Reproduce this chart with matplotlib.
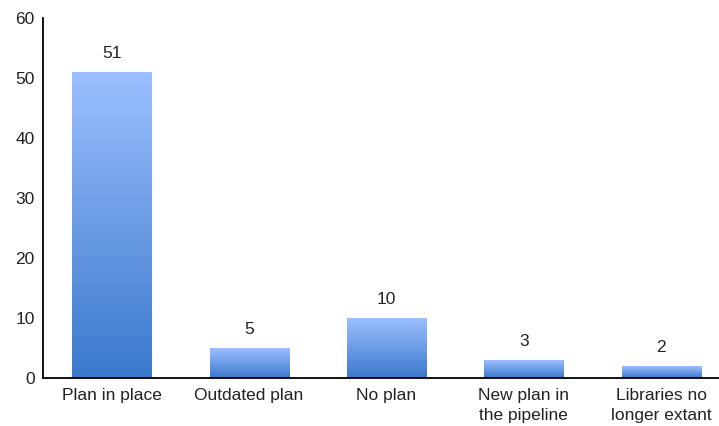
import numpy as np
import matplotlib.pyplot as plt
from matplotlib.colors import LinearSegmentedColormap

plt.rcParams['font.family'] = ['Liberation Sans', 'DejaVu Sans']

categories = ['Plan in place', 'Outdated plan', 'No plan',
              'New plan in\nthe pipeline', 'Libraries no\nlonger extant']
counts = [51, 5, 10, 3, 2]
yticks = [0, 10, 20, 30, 40, 50, 60]

fig = plt.figure(figsize=(7.19, 4.26), dpi=100)
ax = fig.add_axes([43/719, 1 - 378/426, 676/719, 360/426])

# vertical gradient, light on top, darker at the bottom
cmap = LinearSegmentedColormap.from_list('bar', ['#3b79cc', '#9bbfff'])
grad = np.linspace(0, 1, 256).reshape(-1, 1)
w = 0.575
x = np.arange(len(counts))
for xi, v in zip(x, counts):
    ax.imshow(grad, cmap=cmap, origin='lower', aspect='auto',
              extent=(xi - w/2, xi + w/2, 0, v), zorder=2)
    ax.annotate(str(v), (xi, v), xytext=(0, 8), textcoords='offset points',
                ha='center', va='bottom', fontsize=12.5, color='#222222')

ax.set_xlim(-0.5, 4.42)
ax.set_ylim(0, 60)
ax.set_yticks(yticks)
ax.set_xticks(x)
ax.set_xticklabels(categories, fontsize=12.5, color='#222222', linespacing=1.45)
ax.tick_params(axis='both', length=0, labelsize=12.5, labelcolor='#222222')
ax.tick_params(axis='y', pad=6)
ax.tick_params(axis='x', pad=7)

for s in ['top', 'right']:
    ax.spines[s].set_visible(False)
ax.spines['left'].set_linewidth(1.3)
ax.spines['bottom'].set_linewidth(1.3)

fig.savefig('out.png', dpi=100)
